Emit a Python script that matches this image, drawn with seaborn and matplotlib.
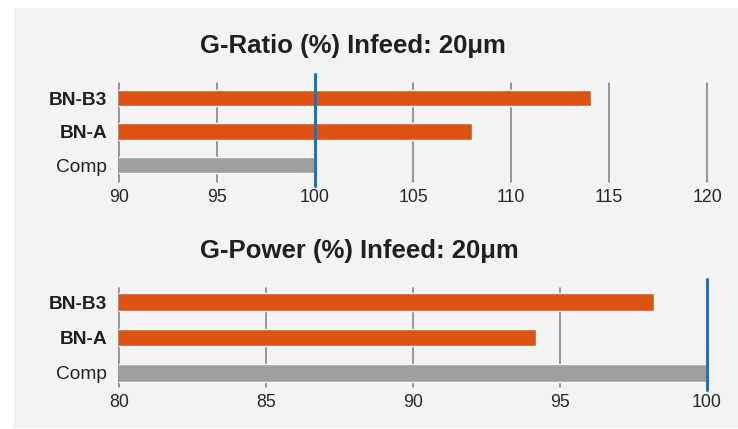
import matplotlib
matplotlib.use('Agg')
import matplotlib.pyplot as plt
import seaborn as sns
import pandas as pd
from matplotlib.patches import Rectangle

categories = ['BN-B3', 'BN-A', 'Comp']
ratio_vals = [114.1, 108.0, 100.0]
power_vals = [98.2, 94.2, 100.0]
ratio_ticks = [90, 95, 100, 105, 110, 115, 120]
power_ticks = [80, 85, 90, 95, 100]
titles = ['G-Ratio (%) Infeed: 20μm', 'G-Power (%) Infeed: 20μm']

sns.set_theme(style='white')
plt.rcParams['font.family'] = ['Liberation Sans', 'DejaVu Sans']

colors = ['#dc5314', '#dc5314', '#9e9e9f']
panel = '#f3f3f3'

fig = plt.figure(figsize=(7.38, 4.29), dpi=100)
fig.patch.set_facecolor('white')
fig.patches.append(Rectangle((14/738, 1-428/429), 1-14/738, 420/429,
                             transform=fig.transFigure, facecolor=panel,
                             edgecolor='none', zorder=-10))

ax1 = fig.add_axes([119/738, 1-182/429, 588/738, 99/429])
ax2 = fig.add_axes([119/738, 1-387/429, 588/738, 99/429])

setups = [
    (ax1, ratio_vals, ratio_ticks, (-0.45, 2.5), 53, -0.04, 1.09),
    (ax2, power_vals, power_ticks, (-0.4, 2.4), 257.7, -0.03, 1.09),
]

for (ax, vals, ticks, ylim, ty, ymn, ymx), title in zip(setups, titles):
    df = pd.DataFrame({'cat': categories, 'val': vals})
    ax.set_facecolor('none')
    sns.barplot(data=df, y='cat', x='val', hue='cat', palette=colors,
                orient='h', width=0.49, legend=False, ax=ax, zorder=2,
                saturation=1)
    ax.set_xlim(ticks[0], ticks[-1])
    ax.set_ylim(ylim[1], ylim[0])
    ax.set_xticks(ticks)
    for t in ticks:
        ax.axvline(t, color='#7d7b7a', lw=1.1, zorder=1, clip_on=False)
    ax.axvline(100, ymin=ymn, ymax=ymx, color='#1b75bc', lw=2.2,
               zorder=3, clip_on=False)
    sns.despine(ax=ax, left=True, bottom=True)
    ax.set_xlabel('')
    ax.set_ylabel('')
    ax.tick_params(axis='x', length=0, pad=5, labelsize=12.8, labelcolor='#2a2627')
    ax.tick_params(axis='y', length=0, pad=8.5, labelsize=13.8, labelcolor='#231f20')
    for lab in ax.get_yticklabels():
        if lab.get_text().startswith('BN'):
            lab.set_fontweight('bold')
    fig.text(200/738, 1-ty/429, title, ha='left', va='baseline',
             fontsize=18.5, fontweight='bold', color='#231f20')

fig.savefig('out.png', dpi=100)
